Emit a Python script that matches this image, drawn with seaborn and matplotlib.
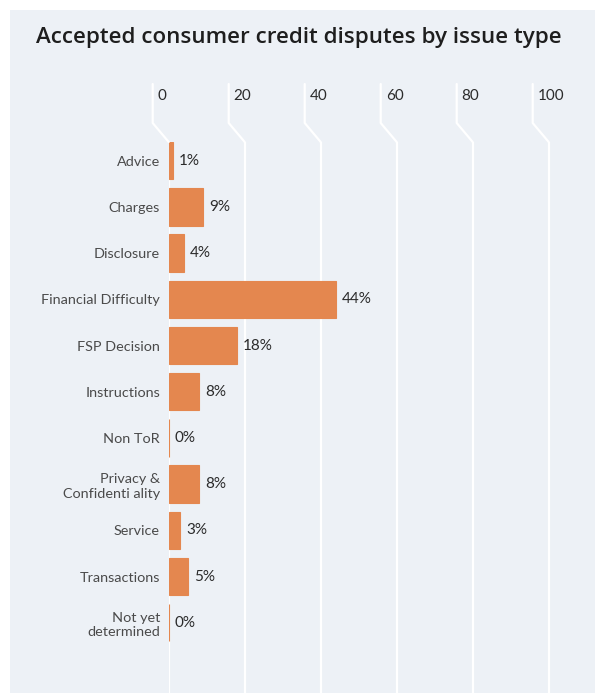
import matplotlib
matplotlib.use("Agg")
import matplotlib.pyplot as plt
from matplotlib.lines import Line2D
from matplotlib.patches import Rectangle
import seaborn as sns
import pandas as pd

# Accepted consumer credit disputes, share by issue type (%)
categories = [
    "Advice", "Charges", "Disclosure", "Financial Difficulty", "FSP Decision",
    "Instructions", "Non ToR", "Privacy &\nConfidenti ality", "Service",
    "Transactions", "Not yet\ndetermined",
]
shares = [1, 9, 4, 44, 18, 8, 0, 8, 3, 5, 0]
x_ticks = [0, 20, 40, 60, 80, 100]
title = "Accepted consumer credit disputes by issue type"

BAR = "#e4874f"
PANEL = "#edf1f6"
TEXT = "#2b2b2b"
LABEL = "#4a4a4a"

sns.set_theme(style="white")
plt.rcParams["font.family"] = ["Lato", "DejaVu Sans"]

W, H = 595, 693
fig = plt.figure(figsize=(W / 100, H / 100), dpi=100)
fig.patch.set_facecolor("white")

# light panel behind the whole chart
fig.add_artist(Rectangle((10 / W, 0), 1 - 10 / W, 1 - 9.5 / H,
                         transform=fig.transFigure, facecolor=PANEL,
                         edgecolor="none", zorder=0))

ax_left, ax_top = 168.7, 142
ax = fig.add_axes([ax_left / W, 0, 1 - ax_left / W, 1 - ax_top / H])
ax.set_facecolor("none")

df = pd.DataFrame({"issue": categories, "share": shares})
sns.barplot(data=df, x="share", y="issue", orient="h", color=BAR,
            saturation=1, width=0.81, edgecolor=BAR, linewidth=0.8, ax=ax)

ax.set_xlim(0, (W - ax_left) / 3.8)
ax.set_ylim(len(categories) - 1 + 1.52, -0.405)
ax.set_xticks(x_ticks)
ax.set_axisbelow(True)
ax.grid(axis="x", color="white", linewidth=1.6)
ax.grid(axis="y", visible=False)
for s in ax.spines.values():
    s.set_visible(False)
ax.set_xlabel("")
ax.set_ylabel("")
ax.tick_params(axis="x", length=0, labelbottom=False)
ax.tick_params(axis="y", length=0, pad=6.3, labelsize=10.4, labelcolor=LABEL)
for lab in ax.get_yticklabels():
    lab.set_linespacing(1.25)

# value labels next to each bar
for i, v in enumerate(shares):
    ax.annotate(f"{v}%", xy=(v, i), xytext=(4.3, 0), textcoords="offset points",
                ha="left", va="center", fontsize=11, color=TEXT)

# bent gridline heads and tick labels above the plot area
fig.canvas.draw()
for t in x_ticks:
    xd = ax.transData.transform((t, 0))[0]
    xs = [xd - 16, xd - 16, xd]
    ys = [H - 84, H - 123, H - ax_top]
    fig.add_artist(Line2D([x / W for x in xs], [y / H for y in ys],
                          transform=fig.transFigure, color="white",
                          linewidth=1.6, zorder=1))
    fig.text((xd - 11) / W, 1 - 96 / H, str(t), ha="left", va="center",
             fontsize=11, color=TEXT)

# title, sized so it spans the panel's heading width
t_obj = fig.text(36 / W, 1 - 37 / H, title, ha="left", va="center",
                 fontsize=14, fontweight="semibold", color="#1e1e1e",
                 family=["Open Sans", "DejaVu Sans"])
renderer = fig.canvas.get_renderer()
width_px = t_obj.get_window_extent(renderer).width
t_obj.set_fontsize(14 * 529 / width_px)

fig.savefig("out.png", dpi=100, facecolor=fig.get_facecolor())
